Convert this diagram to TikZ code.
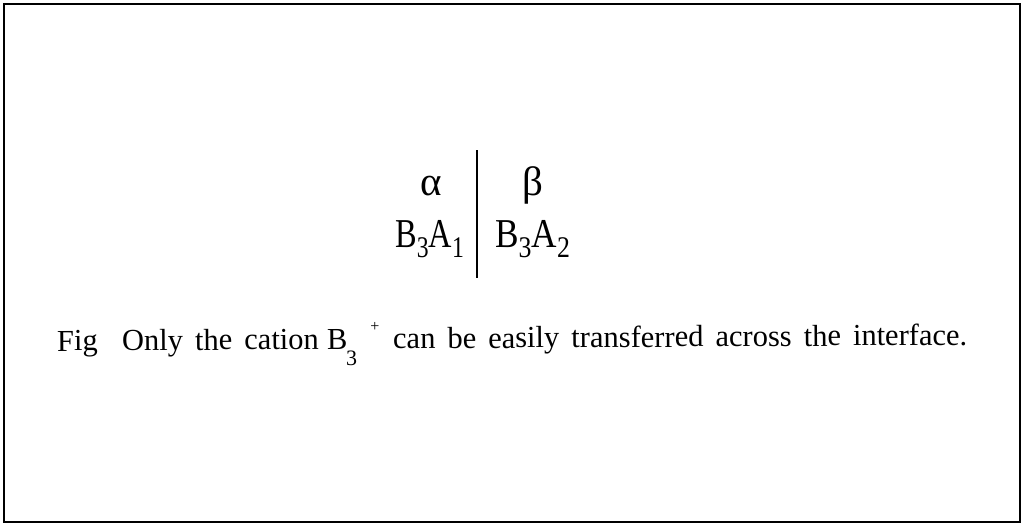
\documentclass[tikz,border=0pt]{standalone}
\usepackage{fontspec}
\setmainfont{Liberation Serif}
\newcommand{\subdig}[1]{\raisebox{-10pt}{\fontsize{30}{30}\selectfont #1}}
\newcommand{\capfont}{\fontsize{30.5}{30.5}\selectfont\spaceskip=12pt plus 1pt\relax}
\begin{document}
\begin{tikzpicture}[x=1pt,y=-1pt,
  big/.style={inner sep=0pt,font=\fontsize{41}{41}\selectfont},
  captext/.style={inner sep=0pt,rotate=0.38,font=\capfont},
  frame/.style={line width=2pt}]
\useasboundingbox (0,0) rectangle (1022,525);
\draw[frame] (4,4) rectangle (1020,522);
% phases
\node[big,anchor=base] (alpha) at (431,195) {α};
\node[big,anchor=base] (beta) at (533,195) {β};
\node[big,anchor=base west] (left) at (395,247) {\scalebox{0.79}[1]{B\subdig{3}A\subdig{1}}};
\node[big,anchor=base west] (right) at (495,247) {\scalebox{0.86}[1]{B\subdig{3}A\subdig{2}}};
\coordinate (itop) at (477,150);
\coordinate (ibot) at (477,278);
\draw[line width=1.8pt] (itop) -- (ibot);
% caption
\node[captext,anchor=base west] (fig) at (57,351) {Fig};
\node[captext,anchor=base west] (only) at (122,350.6) {Only the cation};
\node[captext,anchor=base west] (B) at (327,349.2) {B};
\node[inner sep=0pt,anchor=base west,font=\fontsize{22}{22}\selectfont] (three) at (346,365) {3};
\node[inner sep=0pt,anchor=center,font=\fontsize{16}{16}\selectfont] (plus) at (375,326.5) {+};
\node[captext,anchor=base west] (rest) at (393,348.8) {can be easily transferred across the interface.};
\end{tikzpicture}
\end{document}
